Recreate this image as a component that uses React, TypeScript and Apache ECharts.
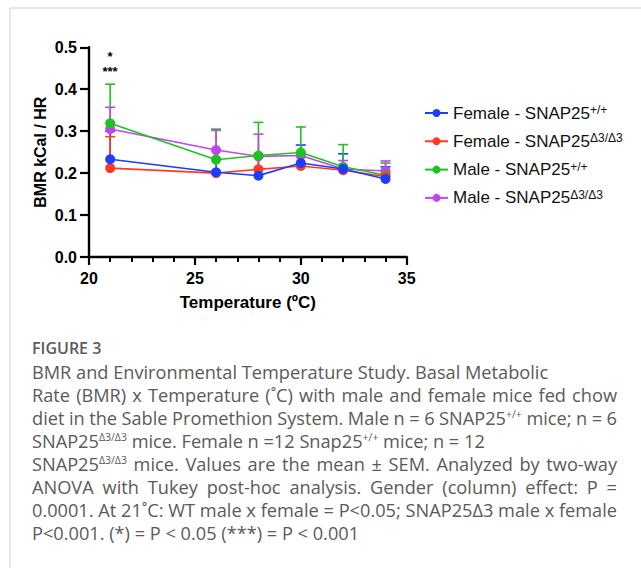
import React, { useEffect, useRef } from "react";
import * as echarts from "echarts";

const temperatures = [21, 26, 28, 30, 32, 34];
const femaleWT = [0.233, 0.202, 0.194, 0.224, 0.21, 0.186];
const femaleWTTop = [0.3, 0.235, 0.24, 0.267, 0.246, 0.215];
const femaleD3 = [0.212, 0.2, 0.209, 0.217, 0.207, 0.192];
const femaleD3Top = [0.287, 0.205, 0.245, 0.222, 0.212, 0.2];
const maleWT = [0.319, 0.232, 0.242, 0.249, 0.215, 0.195];
const maleWTTop = [0.412, 0.305, 0.321, 0.31, 0.268, 0.224];
const maleD3 = [0.305, 0.255, 0.24, 0.242, 0.21, 0.205];
const maleD3Top = [0.357, 0.302, 0.293, 0.25, 0.23, 0.229];

const seriesNames = [
  "Female - SNAP25{sup|+/+}",
  "Female - SNAP25{sup|Δ3/Δ3}",
  "Male - SNAP25{sup|+/+}",
  "Male - SNAP25{sup|Δ3/Δ3}",
];
const colors = ["#1c3cff", "#ff3a1e", "#1ec41e", "#c046ee"];
const yTicks = [0, 0.1, 0.2, 0.3, 0.4, 0.5];
const xTicks = [20, 25, 30, 35];
const significance = ["*", "***"];

const captionTitle = "FIGURE 3";
const captionLines = [
  "BMR and Environmental Temperature Study. Basal Metabolic",
  "Rate (BMR) x Temperature (˚C) with male and female mice fed chow",
  "diet in the Sable Promethion System. Male n = 6 SNAP25{sup|+/+} mice; n = 6",
  "SNAP25{sup|Δ3/Δ3} mice. Female n =12 Snap25{sup|+/+} mice; n = 12",
  "SNAP25{sup|Δ3/Δ3} mice. Values are the mean ± SEM. Analyzed by two-way",
  "ANOVA with Tukey post-hoc analysis. Gender (column) effect: P =",
  "0.0001. At 21˚C: WT male x female = P<0.05; SNAP25Δ3 male x female",
  "P<0.001. (*) = P < 0.05 (***) = P < 0.001",
];
const justified = [false, true, true, false, true, true, true, false];

const means = [femaleWT, femaleD3, maleWT, maleD3];
const tops = [femaleWTTop, femaleD3Top, maleWTTop, maleD3Top];

const CAP_FONT = "Open Sans";
const CAP_SIZE = 18.2;
const SUP_SIZE = 10.5;
const CAP_COLOR = "#5a5a5a";

function splitSegments(w: string): { t: string; sup: boolean }[] {
  const segs: { t: string; sup: boolean }[] = [];
  const re = /\{sup\|([^}]*)\}/g;
  let last = 0;
  let m: RegExpExecArray | null;
  while ((m = re.exec(w))) {
    if (m.index > last) segs.push({ t: w.slice(last, m.index), sup: false });
    segs.push({ t: m[1], sup: true });
    last = m.index + m[0].length;
  }
  if (last < w.length) segs.push({ t: w.slice(last), sup: false });
  return segs;
}

function buildCaption(): any[] {
  const canvas = document.createElement("canvas");
  const ctx = canvas.getContext("2d") as CanvasRenderingContext2D;
  const measure = (t: string, size: number) => {
    ctx.font = `${size}px "${CAP_FONT}"`;
    return ctx.measureText(t).width;
  };
  const left = 32;
  const right = 617;
  const spaceW = measure(" ", CAP_SIZE);
  const out: any[] = [];
  captionLines.forEach((line, k) => {
    const words = line.split(" ").map(splitSegments);
    const widths = words.map((segs) =>
      segs.reduce((a, s) => a + measure(s.t, s.sup ? SUP_SIZE : CAP_SIZE), 0)
    );
    const sum = widths.reduce((a, b) => a + b, 0);
    const gap = justified[k] && words.length > 1 ? (right - left - sum) / (words.length - 1) : spaceW;
    let x = left;
    const y = 371.5 + k * 23.1;
    words.forEach((segs, i) => {
      let sx = x;
      segs.forEach((s) => {
        out.push({
          type: "text",
          x: sx,
          y: s.sup ? y - 4 : y,
          style: {
            text: s.t,
            fontFamily: CAP_FONT,
            fontSize: s.sup ? SUP_SIZE : CAP_SIZE,
            fill: CAP_COLOR,
            lineHeight: s.sup ? 10 : 19,
            verticalAlign: "middle",
            align: "left",
          },
        });
        sx += measure(s.t, s.sup ? SUP_SIZE : CAP_SIZE);
      });
      x += widths[i] + gap;
    });
  });
  return out;
}

export default function App() {
  const ref = useRef<HTMLDivElement>(null);
  useEffect(() => {
    document.body.style.margin = "0";
    if (!ref.current) return;
    const chart = echarts.init(ref.current, undefined, { renderer: "svg" });

    const errSeries = means.map((m, i) => ({
      type: "custom",
      z: 1,
      silent: true,
      data: temperatures.map((t, j) => [t, m[j], tops[i][j]]),
      encode: { x: 0, y: 1 },
      renderItem: (params: any, api: any) => {
        const p0 = api.coord([api.value(0), api.value(1)]);
        const p1 = api.coord([api.value(0), api.value(2)]);
        const st = { stroke: colors[i], lineWidth: 1.6 };
        return {
          type: "group",
          children: [
            { type: "line", shape: { x1: p0[0], y1: p0[1], x2: p1[0], y2: p1[1] }, style: st },
            { type: "line", shape: { x1: p1[0] - 5, y1: p1[1], x2: p1[0] + 5, y2: p1[1] }, style: st },
          ],
        };
      },
    }));

    const order = [3, 2, 1, 0];
    const lineSeries = order.map((i) => ({
      type: "line",
      name: seriesNames[i],
      z: 3,
      data: temperatures.map((t, j) => [t, means[i][j]]),
      symbol: "circle",
      symbolSize: 10,
      lineStyle: { color: colors[i], width: 1.6 },
      itemStyle: { color: colors[i] },
    }));

    const axisFont = { fontFamily: "Liberation Sans", fontWeight: "bold", color: "#000" };

    const starTexts = significance.map((s, k) => ({
      type: "text",
      x: 110,
      y: 56.5 + k * 14.5,
      style: {
        text: s,
        fontFamily: "Liberation Sans",
        fontWeight: "bold",
        fontSize: 13,
        lineHeight: 12,
        fill: "#000",
        align: "center",
        verticalAlign: "middle",
      },
    }));

    chart.setOption({
      animation: false,
      grid: { left: 89, right: 234.3, top: 47.3, bottom: 311, containLabel: false },
      xAxis: {
        type: "value",
        min: xTicks[0],
        max: xTicks[xTicks.length - 1],
        interval: 5,
        name: "Temperature (ºC)",
        nameLocation: "middle",
        nameGap: 37,
        nameTextStyle: { ...axisFont, fontSize: 17 },
        axisLine: { lineStyle: { color: "#000", width: 2.4 } },
        axisTick: { length: 8, lineStyle: { color: "#000", width: 2.2 } },
        minorTick: { show: true, splitNumber: 5, length: 5, lineStyle: { color: "#000", width: 2 } },
        splitLine: { show: false },
        axisLabel: { ...axisFont, fontSize: 16, margin: 13 },
      },
      yAxis: {
        type: "value",
        min: yTicks[0],
        max: yTicks[yTicks.length - 1],
        interval: 0.1,
        name: "BMR kCal / HR",
        nameLocation: "middle",
        nameGap: 41,
        nameTextStyle: { ...axisFont, fontSize: 16 },
        axisLine: { show: true, lineStyle: { color: "#000", width: 2.4 } },
        axisTick: { show: true, length: 9, lineStyle: { color: "#000", width: 2.2 } },
        splitLine: { show: false },
        axisLabel: {
          ...axisFont,
          fontSize: 16,
          margin: 12,
          formatter: (v: number) => v.toFixed(1),
        },
      },
      legend: {
        orient: "vertical",
        left: 419,
        top: 99,
        itemWidth: 23,
        itemHeight: 10,
        itemGap: 10.3,
        data: seriesNames,
        textStyle: {
          fontFamily: "Liberation Sans",
          fontSize: 17,
          color: "#111",
          lineHeight: 18,
          rich: {
            sup: { fontSize: 12, verticalAlign: "top", lineHeight: 12, color: "#111", fontFamily: "Liberation Sans" },
          },
        },
      },
      graphic: [
        { type: "line", shape: { x1: 10, y1: 8, x2: 641, y2: 8 }, style: { stroke: "#d0d0d0", lineWidth: 1 } },
        { type: "line", shape: { x1: 10, y1: 8, x2: 10, y2: 568 }, style: { stroke: "#d0d0d0", lineWidth: 1 } },
        ...starTexts,
        {
          type: "text",
          x: 32,
          y: 348,
          style: { text: captionTitle, fontFamily: CAP_FONT, fontWeight: 600, fontSize: 16, fill: CAP_COLOR, verticalAlign: "middle" },
        },
        ...buildCaption(),
      ],
      series: [...errSeries, ...lineSeries],
    });
    return () => chart.dispose();
  }, []);
  return <div ref={ref} style={{ width: 641, height: 568 }} />;
}
